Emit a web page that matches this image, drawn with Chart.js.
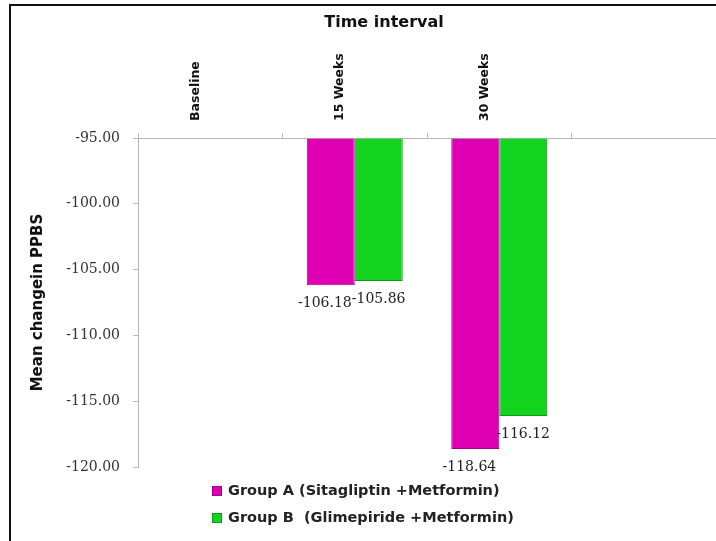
<!DOCTYPE html>
<html>
<head>
<meta charset="utf-8">
<title>Mean change in PPBS</title>
<script src="https://cdn.jsdelivr.net/npm/chart.js@4.4.1/dist/chart.umd.min.js"></script>
<style>
  html, body { margin: 0; padding: 0; background: #fff; }
  #wrap { position: relative; width: 716px; height: 541px; overflow: hidden; }
  #frame { position: absolute; left: 9px; top: 4px; width: 760px; height: 600px;
           border-left: 2.5px solid #111; border-top: 2px solid #111; }
  canvas { position: absolute; left: 0; top: 0; }
</style>
</head>
<body>
<div id="wrap">
  <div id="frame"></div>
  <canvas id="chart" width="716" height="541"></canvas>
</div>
<script>
// Time points (the last slot is left empty so the axis runs on to the edge)
const categories = ['Baseline', '15 Weeks', '30 Weeks', ''];

// Mean change in PPBS per group
const groupA = [null, -106.18, -118.64, null];
const groupB = [null, -105.86, -116.12, null];

const seriesLabels = ['Group A (Sitagliptin +Metformin)', 'Group B  (Glimepiride +Metformin)'];
const chartTitle = 'Time interval';

// Value axis
const yMin = -120;
const yMax = -95;
const yStep = 5;

const serif = "'DejaVu Serif', 'Liberation Serif', serif";
const sans = "'DejaVu Sans', 'Liberation Sans', sans-serif";

// Heading above the category labels
const heading = {
  id: 'heading',
  afterDraw(chart) {
    const ctx = chart.ctx;
    ctx.save();
    ctx.font = 'bold 16px ' + sans;
    ctx.fillStyle = '#111';
    ctx.textAlign = 'center';
    ctx.textBaseline = 'middle';
    ctx.fillText(chartTitle, 384, 23);
    ctx.restore();
  }
};

// Value labels under each bar end
const valueLabels = {
  id: 'valueLabels',
  afterDatasetsDraw(chart) {
    const ctx = chart.ctx;
    ctx.save();
    ctx.font = '14px ' + serif;
    ctx.fillStyle = '#222';
    ctx.textBaseline = 'middle';
    chart.data.datasets.forEach((ds, di) => {
      const meta = chart.getDatasetMeta(di);
      meta.data.forEach((bar, i) => {
        const v = ds.data[i];
        if (v === null || v === undefined) return;
        const half = bar.width / 2;
        let x;
        if (di === 0) { ctx.textAlign = 'right'; x = bar.x + half - 3; }
        else { ctx.textAlign = 'left'; x = bar.x - half - 3; }
        ctx.fillText(v.toFixed(2), x, bar.y + 18);
      });
    });
    ctx.restore();
  }
};

// Stacked legend below the plot
const stackedLegend = {
  id: 'stackedLegend',
  afterDraw(chart) {
    const ctx = chart.ctx;
    ctx.save();
    ctx.font = 'bold 14.5px ' + sans;
    ctx.textBaseline = 'middle';
    ctx.textAlign = 'left';
    chart.data.datasets.forEach((ds, di) => {
      const y = 491 + di * 27;
      ctx.fillStyle = ds.backgroundColor;
      ctx.fillRect(212, y - 5, 10, 10);
      ctx.strokeStyle = ds.borderColor;
      ctx.lineWidth = 1;
      ctx.strokeRect(212.5, y - 4.5, 9, 9);
      ctx.fillStyle = '#222';
      ctx.fillText(ds.label, 228, y);
    });
    ctx.restore();
  }
};

new Chart(document.getElementById('chart'), {
  type: 'bar',
  data: {
    labels: categories,
    datasets: [
      {
        label: seriesLabels[0],
        data: groupA,
        base: yMax,
        backgroundColor: '#E000B4',
        borderColor: '#A8008A',
        borderWidth: 1
      },
      {
        label: seriesLabels[1],
        data: groupB,
        base: yMax,
        backgroundColor: '#12D41E',
        borderColor: '#0C9A18',
        borderWidth: 1
      }
    ]
  },
  options: {
    responsive: false,
    animation: false,
    categoryPercentage: 0.664,
    barPercentage: 1,
    layout: { padding: { left: 0, right: 0, top: 33.2, bottom: 74 } },
    plugins: {
      legend: { display: false },
      tooltip: { enabled: false },
      title: { display: false }
    },
    scales: {
      x: {
        position: 'top',
        afterFit(scale) { scale.height = 104.8; },
        grid: {
          display: true,
          drawOnChartArea: false,
          drawTicks: true,
          tickLength: 5,
          color: '#bbb',
          offset: true
        },
        border: { display: true, color: '#b5b5b5', width: 1 },
        ticks: {
          minRotation: 90,
          maxRotation: 90,
          autoSkip: false,
          padding: 12,
          color: '#111',
          font: { family: sans, size: 12.5, weight: 'bold' }
        }
      },
      y: {
        min: yMin,
        max: yMax,
        afterFit(scale) { scale.width = 138; },
        grid: {
          display: true,
          drawOnChartArea: false,
          drawTicks: true,
          tickLength: 5,
          color: '#bbb'
        },
        border: { display: true, color: '#b5b5b5', width: 1 },
        ticks: {
          stepSize: yStep,
          padding: 13,
          color: '#333',
          font: { family: serif, size: 14 },
          callback: (v) => Number(v).toFixed(2)
        },
        title: {
          display: true,
          text: 'Mean changein PPBS',
          color: '#111',
          font: { family: sans, size: 15, weight: 'bold' },
          padding: { top: 29, bottom: 0 }
        }
      }
    }
  },
  plugins: [heading, valueLabels, stackedLegend]
});
</script>
</body>
</html>
